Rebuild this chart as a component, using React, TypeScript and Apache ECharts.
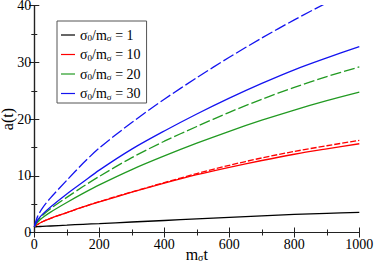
import React, { useEffect, useRef } from "react";
import * as echarts from "echarts";

const tGrid = [0, 10, 25, 50, 100, 150, 200, 300, 400, 500, 600, 700, 800, 900, 1000];

const black1 = [1, 1.03, 1.08, 1.15, 1.3, 1.45, 1.58, 1.85, 2.12, 2.4, 2.67, 2.93, 3.18, 3.38, 3.56];
const red10 = [1, 1.4, 1.9, 2.5, 3.5, 4.5, 5.4, 7.1, 8.7, 10.2, 11.5, 12.7, 13.8, 14.75, 15.65];
const red10Dash = [1, 1.4, 1.9, 2.5, 3.5, 4.5, 5.45, 7.15, 8.8, 10.4, 11.85, 13.15, 14.3, 15.3, 16.25];
const green20 = [1, 1.8, 2.6, 3.6, 5.3, 6.9, 8.4, 11.1, 13.5, 15.75, 17.85, 19.8, 21.6, 23.25, 24.75];
const green20Dash = [1, 2.0, 3.0, 4.2, 6.2, 8.1, 9.9, 13.2, 16.1, 18.7, 21.2, 23.5, 25.6, 27.5, 29.2];
const blue30 = [1, 2.2, 3.2, 4.5, 6.8, 8.9, 11.0, 14.7, 17.9, 20.9, 23.7, 26.3, 28.7, 30.8, 32.8];
const blue30Dash = [1, 2.8, 4.3, 6.1, 9.2, 12.2, 14.9, 19.4, 23.5, 27.3, 30.9, 34.3, 37.5, 40.5, 43.3];

const xTicks = [0, 200, 400, 600, 800, 1000];
const yTicks = [0, 10, 20, 30, 40];

const legendNames = ["σ0/mσ = 1", "σ0/mσ = 10", "σ0/mσ = 20", "σ0/mσ = 30"];
const legendRich = ["σ{s|0}/m{s|σ} = 1", "σ{s|0}/m{s|σ} = 10", "σ{s|0}/m{s|σ} = 20", "σ{s|0}/m{s|σ} = 30"];

const BLACK = "#000000";
const RED = "#ff0000";
const GREEN = "#229a22";
const BLUE = "#1414f0";
const FONT = "Times New Roman";

function pairs(v: number[]) {
  return tGrid.map((t, i) => [t, v[i]]);
}

export default function App() {
  const ref = useRef<HTMLDivElement>(null);
  useEffect(() => {
    document.body.style.margin = "0";
    const chart = echarts.init(ref.current!, null, { renderer: "svg" });
    const axisLine = { show: true, lineStyle: { color: "#222", width: 1.2 } };
    const tick = { inside: true, length: 5, lineStyle: { color: "#222" } };
    const minor = { show: true, splitNumber: 2, length: 3, lineStyle: { color: "#222" } };
    const baseX = {
      type: "value" as const,
      min: 0,
      max: 1000,
      interval: 200,
      splitLine: { show: false },
      axisLine,
      axisTick: tick,
      minorTick: minor,
    };
    const baseY = {
      type: "value" as const,
      min: 0,
      max: 40,
      interval: 10,
      splitLine: { show: false },
      axisLine,
      axisTick: tick,
      minorTick: minor,
    };
    const mk = (name: string, data: number[], color: string, dash: any) => ({
      type: "line" as const,
      name,
      data: pairs(data),
      smooth: 0.3,
      symbol: "none",
      showSymbol: false,
      clip: true,
      lineStyle: { color, width: 1.3, type: dash },
      itemStyle: { color },
      xAxisIndex: 0,
      yAxisIndex: 0,
    });
    chart.setOption({
      animation: false,
      textStyle: { fontFamily: FONT },
      grid: {
        left: 34.3,
        right: 14.7,
        top: 5.7,
        bottom: 33.5,
        containLabel: false,
        outerBoundsMode: "none",
      },
      legend: {
        orient: "vertical",
        left: 57,
        top: 21,
        data: legendNames,
        selectedMode: false,
        icon: "rect",
        borderColor: "#555",
        borderWidth: 1,
        padding: [7, 6, 2, 4],
        itemGap: 5,
        itemWidth: 14,
        itemHeight: 1.2,
        formatter: (n: string) => legendRich[legendNames.indexOf(n)],
        textStyle: {
          fontFamily: FONT,
          fontSize: 14,
          color: "#000",
          rich: { s: { fontFamily: FONT, fontSize: 9, padding: [6, 0, 0, 0], color: "#000" } },
        },
      },
      xAxis: [
        {
          ...baseX,
          position: "bottom",
          axisLabel: {
            fontFamily: FONT,
            fontSize: 14,
            color: "#000",
            margin: 5,
            formatter: (v: number) => (xTicks.includes(v) ? String(v) : ""),
          },
          name: "m{s|σ}t",
          nameLocation: "middle",
          nameGap: 13,
          nameMoveOverlap: false,
          nameTextStyle: {
            fontFamily: FONT,
            fontSize: 16,
            color: "#000",
            rich: { s: { fontFamily: FONT, fontSize: 10, padding: [7, 0, 0, 0], color: "#000" } },
          },
        },
        { ...baseX, position: "top", axisLabel: { show: false } },
      ],
      yAxis: [
        {
          ...baseY,
          position: "left",
          axisLabel: {
            fontFamily: FONT,
            fontSize: 14,
            lineHeight: 11,
            color: "#000",
            margin: 3,
            formatter: (v: number) => (yTicks.includes(v) ? String(v) : ""),
          },
          name: "a(t)",
          nameLocation: "middle",
          nameGap: 21,
          nameRotate: 90,
          nameMoveOverlap: false,
          nameTextStyle: { fontFamily: FONT, fontSize: 16, lineHeight: 11, color: "#000" },
        },
        { ...baseY, position: "right", axisLabel: { show: false } },
      ],
      series: [
        mk(legendNames[0], black1, BLACK, "solid"),
        mk("red dashed", red10Dash, RED, [6, 2]),
        mk(legendNames[1], red10, RED, "solid"),
        mk("green dashed", green20Dash, GREEN, [11, 3]),
        mk(legendNames[2], green20, GREEN, "solid"),
        mk("blue dashed", blue30Dash, BLUE, [12, 3]),
        mk(legendNames[3], blue30, BLUE, "solid"),
      ],
    });
    return () => chart.dispose();
  }, []);
  return <div ref={ref} style={{ width: 374, height: 266 }} />;
}
